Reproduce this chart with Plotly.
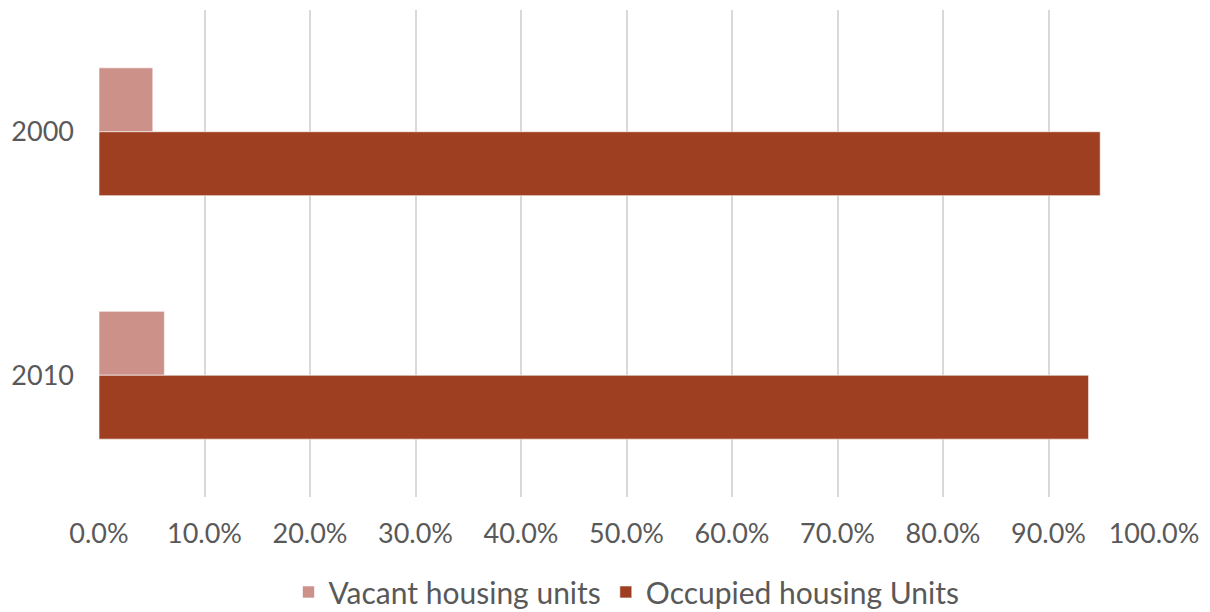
import plotly.graph_objects as go

years = ["2000", "2010"]
vacant = [0.051, 0.062]
occupied = [0.949, 0.938]
series_names = ["Vacant housing units", "Occupied housing Units"]
colors = ["#CC9189", "#9E3F22"]

fig = go.Figure()
for name, vals, col in zip(series_names, [vacant, occupied], colors):
    fig.add_trace(go.Bar(
        y=years, x=vals, name=name, orientation="h",
        marker=dict(color=col, line=dict(color="rgba(255,255,255,0.6)", width=1)),
    ))

font_family = "Lato, 'DejaVu Sans', sans-serif"
fig.update_layout(
    width=1202, height=604,
    barmode="group", bargap=0.475, bargroupgap=0,
    paper_bgcolor="white", plot_bgcolor="white",
    margin=dict(l=91, r=56, t=2, b=115, autoexpand=False),
    font=dict(family=font_family, size=27, color="#595959"),
    legend=dict(orientation="h", x=0.5, xanchor="center", y=-0.195, yanchor="middle",
                font=dict(size=30, color="#595959"), itemwidth=30),
    showlegend=True,
)
fig.update_xaxes(
    range=[0, 1], dtick=0.1, tickformat=".1%", automargin=False,
    showgrid=True, gridcolor="#D9D9D9", gridwidth=2,
    zeroline=False, showline=False, ticks="", ticklabelstandoff=18,
    tickfont=dict(size=27, color="#595959"),
)
fig.update_yaxes(
    autorange="reversed", showgrid=False, zeroline=False, showline=False,
    ticks="", ticklabelstandoff=24, automargin=False,
    tickfont=dict(size=27, color="#595959"),
)
fig.write_html("out.html")
